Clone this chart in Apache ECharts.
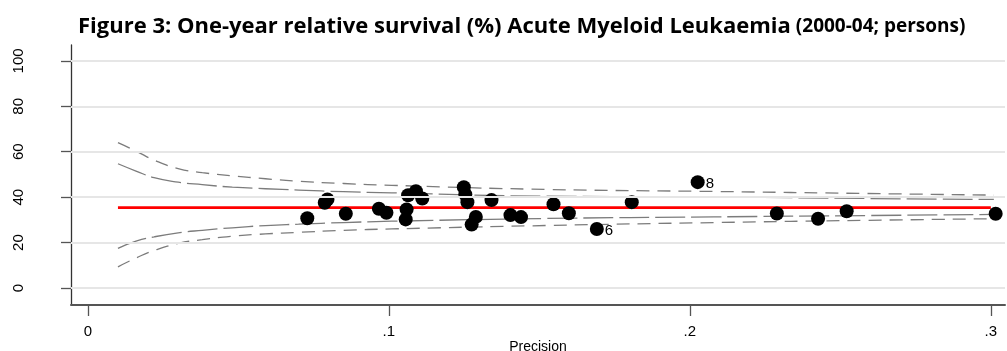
<!DOCTYPE html>
<html><head><meta charset="utf-8">
<script src="https://cdn.jsdelivr.net/npm/echarts@6/dist/echarts.min.js"></script>
<style>html,body{margin:0;padding:0;background:#fff}#c{width:1007px;height:351px}</style>
</head><body><div id="c"></div>
<script>
// Data
const titleMain = 'Figure 3: One-year relative survival (%) Acute Myeloid Leukaemia';
const titleSub = '(2000-04; persons)';
const xAxisName = 'Precision';
const xTicks = [0, 0.1, 0.2, 0.3];
const yTicks = [0, 20, 40, 60, 80, 100];

const pointX = [0.0729,0.0787,0.0796,0.0857,0.0967,0.0992,0.1059,0.1056,0.1064,0.1090,0.1111,0.1249,0.1254,0.1261,0.1289,0.1275,0.1341,0.1404,0.1439,0.1547,0.1598,0.1691,0.1807,0.2026,0.2289,0.2426,0.2521,0.3016];
const pointY = [30.7,37.5,39.0,32.7,34.9,33.1,34.6,30.2,40.8,42.6,39.4,44.4,41.2,37.8,31.3,27.9,38.7,32.1,31.2,36.9,32.9,26.0,37.8,46.6,32.8,30.5,33.8,32.7];
const pointLabels = ['','','','','','','','','','','','','','','','','','','','','','6','','8','','','',''];

const meanValue = 35.4;
const meanX = [0.01, 0.3];

const limitX = [0.010,0.016,0.022,0.030,0.038,0.048,0.059,0.070,0.085,0.101,0.152,0.208,0.259,0.301];
const upperOuter = [64.0,60.3,56.3,52.6,50.8,49.4,48.1,47.0,46.0,45.2,43.4,42.5,41.6,40.9];
const upperInner = [54.7,51.5,48.6,46.6,45.5,44.4,43.7,43.1,42.4,41.9,40.4,40.1,39.4,39.0];
const lowerInner = [17.4,20.6,22.5,24.3,25.4,26.5,27.5,28.1,28.8,29.4,30.6,31.3,31.9,32.4];
const lowerOuter = [9.3,13.2,16.5,19.6,21.3,22.8,23.8,24.5,25.4,26.0,27.5,28.8,29.8,30.5];

const pairs = (xs, ys) => xs.map((x, i) => [x, ys[i]]);
const dashSeries = (ys, dash) => ({
  type: 'line', data: pairs(limitX, ys), smooth: true, symbol: 'none', silent: true,
  lineStyle: { color: '#7c7c7c', width: 1.3, type: dash }, z: 2
});

const chart = echarts.init(document.getElementById('c'), null, { renderer: 'canvas' });
chart.setOption({
  animation: false,
  title: {
    text: '{a|' + titleMain + '} {b|' + titleSub + '}',
    left: 78, top: 13, padding: 0,
    textStyle: {
      rich: {
        a: { fontFamily: 'Open Sans', fontWeight: 'bold', fontSize: 22, lineHeight: 28, color: '#000' },
        b: { fontFamily: 'Open Sans', fontWeight: 'bold', fontSize: 19, lineHeight: 28, color: '#000' }
      }
    }
  },
  grid: { left: 71, right: 2, top: 45, bottom: 46, containLabel: false, outerBoundsMode: 'none' },
  xAxis: {
    type: 'value', min: -0.0056, max: 0.3047,
    name: xAxisName, nameLocation: 'middle', nameGap: 35, nameMoveOverlap: false,
    nameTextStyle: { fontFamily: 'Liberation Sans', fontSize: 14, color: '#000', verticalAlign: 'top' },
    axisLine: { show: true, onZero: false, lineStyle: { color: '#555', width: 2 } },
    axisTick: { show: true, length: 11, customValues: xTicks, lineStyle: { color: '#555', width: 1.3 } },
    axisLabel: { customValues: xTicks, margin: 19, fontFamily: 'Liberation Sans', fontSize: 15, color: '#000',
      formatter: v => v === 0 ? '0' : String(v).replace(/^0/, '') },
    splitLine: { show: false }
  },
  yAxis: {
    type: 'value', min: -7.5, max: 107,
    axisLine: { show: true, onZero: false, lineStyle: { color: '#333', width: 1.3 } },
    axisTick: { show: true, length: 10, customValues: yTicks, lineStyle: { color: '#555', width: 1.3 } },
    axisLabel: { customValues: yTicks, rotate: 90, margin: 45, fontFamily: 'Liberation Sans', fontSize: 15, color: '#000' },
    splitLine: { show: false }
  },
  series: [
    {
      type: 'line', data: [], silent: true, symbol: 'none',
      markLine: {
        silent: true, symbol: 'none', label: { show: false },
        lineStyle: { color: '#e6e6e6', width: 2, type: 'solid' },
        data: yTicks.map(v => ({ yAxis: v }))
      }, z: 1
    },
    dashSeries(upperOuter, [13, 8]),
    dashSeries(upperInner, [30, 6]),
    dashSeries(lowerInner, [30, 6]),
    dashSeries(lowerOuter, [13, 8]),
    {
      type: 'line', data: meanX.map(x => [x, meanValue]), symbol: 'none', silent: true,
      lineStyle: { color: '#ff0000', width: 2.6 }, z: 3
    },
    {
      type: 'scatter', symbol: 'circle', symbolSize: 14, z: 4,
      itemStyle: { color: '#000', opacity: 1 },
      data: pointX.map((x, i) => ({
        value: [x, pointY[i]],
        label: { show: pointLabels[i] !== '', formatter: pointLabels[i], position: 'right', distance: 1, offset: [0, 2],
          fontFamily: 'Liberation Sans', fontSize: 15, color: '#000' }
      }))
    }
  ]
});
</script></body></html>
